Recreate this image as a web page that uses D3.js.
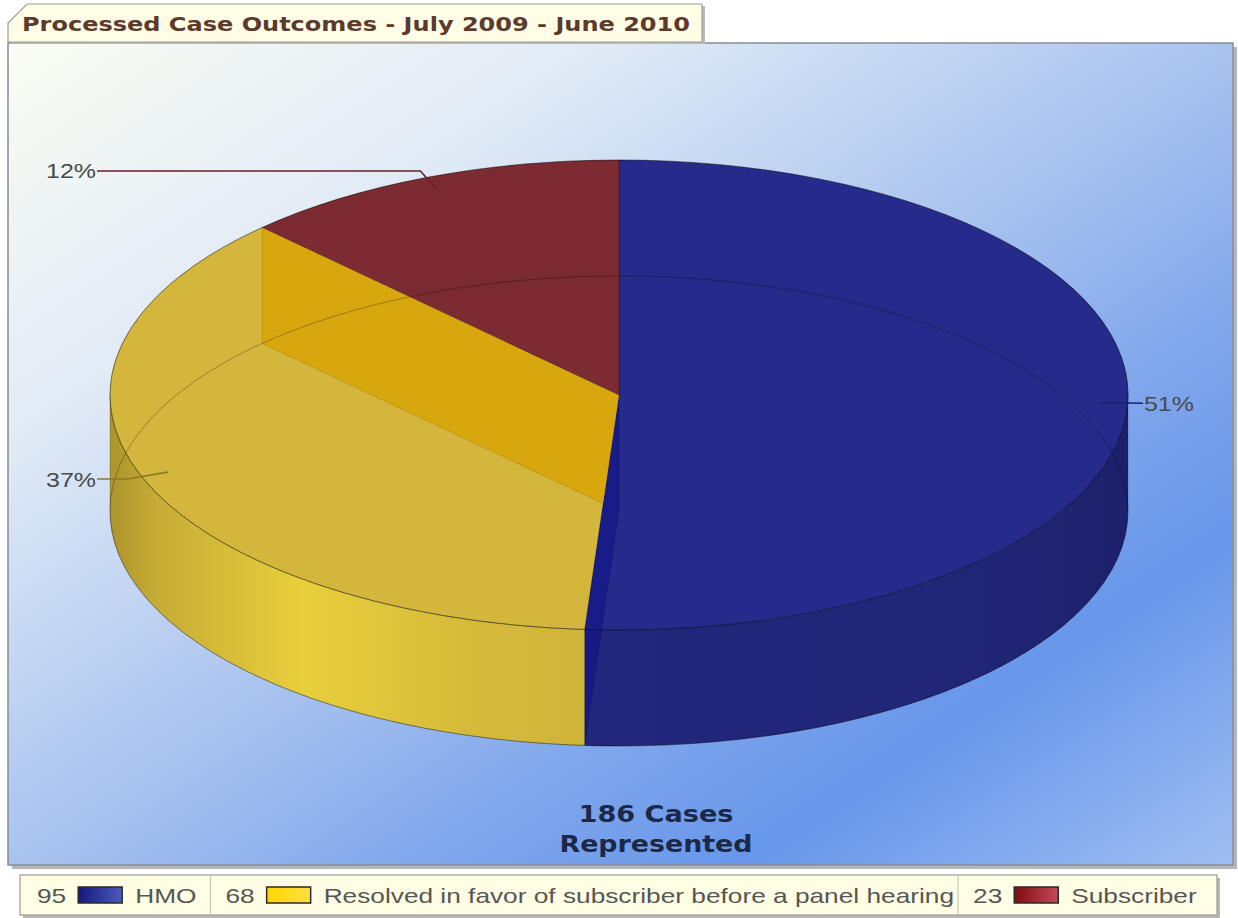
<!DOCTYPE html>
<html>
<head>
<meta charset="utf-8">
<script src="https://cdn.jsdelivr.net/npm/d3@7"></script>
<style>
  body { margin: 0; background: #ffffff; }
  svg { display: block; }
</style>
</head>
<body>
<script>
// ---- data ----
const categories = ["HMO", "Resolved in favor of subscriber before a panel hearing", "Subscriber"];
const caseCounts = [95, 68, 23];
const percentLabels = ["51%", "37%", "12%"];
const titleText = "Processed Case Outcomes - July 2009 - June 2010";
const centerLines = ["186 Cases", "Represented"];

// ---- styles ----
const topColors  = ["#262b8b", "#d3b63b", "#7b2b31"];
const wallColors = ["#22267a", "#d2b83a", "#6e252b"];
const cutColors  = ["#0c1086", "#d9a200", "#5a1a20"];
const cutOpacity = [0.55, 0.75, 0.5];
const leaderColors = ["#1b2066", "#8d7a22", "#6a1f24"];
const swatchFrom = ["#16167c", "#ffd500", "#7e0c10"];
const swatchTo   = ["#4c5cbc", "#ffe040", "#c44a58"];

const W = 1238, H = 918;
const svg = d3.select("body").append("svg").attr("width", W).attr("height", H);
const defs = svg.append("defs");

// ---- plot area ----
const plot = { x: 8, y: 43, w: 1225, h: 822 };
const bg = defs.append("linearGradient").attr("id", "bgGrad")
  .attr("x1", 0).attr("y1", 0).attr("x2", 1).attr("y2", 1);
[[0, "#fbfdf3"], [0.25, "#e0eaf6"], [0.5, "#a9c3ef"], [0.66, "#82a8ec"],
 [0.8, "#6796ea"], [1, "#a0bff2"]].forEach(([o, c]) =>
  bg.append("stop").attr("offset", o).attr("stop-color", c));

// drop shadow of plot area
svg.append("rect").attr("x", plot.x + 4).attr("y", plot.y + 4)
  .attr("width", plot.w).attr("height", plot.h).attr("fill", "#b4b6ba");
svg.append("rect").attr("x", plot.x).attr("y", plot.y)
  .attr("width", plot.w).attr("height", plot.h)
  .attr("fill", "url(#bgGrad)").attr("stroke", "#878c96").attr("stroke-width", 1.5);

// ---- 3D pie ----
const cx = 619, cy = 395, rx = 509, ry = 235, depth = 116;
const pie = d3.pie().sort(null).startAngle(0).endAngle(2 * Math.PI);
const arcs = pie(caseCounts);

const pt = (a, r = 1, dz = 0) => [cx + rx * r * Math.sin(a), cy - ry * r * Math.cos(a) + dz];
const fmt = p => p[0].toFixed(2) + "," + p[1].toFixed(2);

function topPath(d) {
  const s = pt(d.startAngle), e = pt(d.endAngle);
  const large = (d.endAngle - d.startAngle) > Math.PI ? 1 : 0;
  return `M${fmt([cx, cy])}L${fmt(s)}A${rx},${ry} 0 ${large} 1 ${fmt(e)}Z`;
}
function wallPath(a0, a1) {
  const s = pt(a0), e = pt(a1), sb = pt(a0, 1, depth), eb = pt(a1, 1, depth);
  const large = (a1 - a0) > Math.PI ? 1 : 0;
  return `M${fmt(s)}A${rx},${ry} 0 ${large} 1 ${fmt(e)}L${fmt(eb)}A${rx},${ry} 0 ${large} 0 ${fmt(sb)}Z`;
}
function cutPath(a) {
  return `M${fmt([cx, cy])}L${fmt(pt(a))}L${fmt(pt(a, 1, depth))}L${fmt([cx, cy + depth])}Z`;
}
const frontRange = d => [Math.max(d.startAngle, Math.PI / 2), Math.min(d.endAngle, 3 * Math.PI / 2)];

// wall gradients
const yWall = defs.append("linearGradient").attr("id", "wall1")
  .attr("gradientUnits", "userSpaceOnUse")
  .attr("x1", cx - rx).attr("y1", 0).attr("x2", cx).attr("y2", 0);
[[0, "#ad942c"], [0.1, "#c8ad36"], [0.38, "#e8cf3b"], [0.7, "#d6bb3a"], [1, "#cdb23a"]]
  .forEach(([o, c]) => yWall.append("stop").attr("offset", o).attr("stop-color", c));
const bWall = defs.append("linearGradient").attr("id", "wall0")
  .attr("gradientUnits", "userSpaceOnUse")
  .attr("x1", cx).attr("y1", 0).attr("x2", cx + rx).attr("y2", 0);
[[0, "#22267c"], [0.6, "#222678"], [1, "#1d216c"]]
  .forEach(([o, c]) => bWall.append("stop").attr("offset", o).attr("stop-color", c));
const wallFill = ["url(#wall0)", "url(#wall1)", wallColors[2]];

// each slice's own visible body (top + front wall), used to clip its cut face
arcs.forEach((d, i) => {
  const cp = defs.append("clipPath").attr("id", "body" + i);
  cp.append("path").attr("d", topPath(d));
  const [a0, a1] = frontRange(d);
  if (a1 > a0) cp.append("path").attr("d", wallPath(a0, a1));
});

const pieG = svg.append("g");

// front-facing outer walls (angles between 90 and 270 degrees)
arcs.forEach((d, i) => {
  const [a0, a1] = frontRange(d);
  if (a1 > a0) {
    pieG.append("path").attr("d", wallPath(a0, a1))
      .attr("fill", wallFill[i]).attr("stroke", "#000").attr("stroke-opacity", 0.25)
      .attr("stroke-width", 0.8);
  }
});

// top faces
pieG.selectAll("path.top").data(arcs).join("path").attr("class", "top")
  .attr("d", topPath).attr("fill", (d, i) => topColors[i])
  .attr("stroke", "#000").attr("stroke-opacity", 0.3).attr("stroke-width", 0.8);

// radial cut faces seen through the translucent top
arcs.forEach((d, i) => {
  if (d.endAngle < 2 * Math.PI - 1e-6) {
    pieG.append("path").attr("d", cutPath(d.endAngle))
      .attr("clip-path", `url(#body${i})`)
      .attr("fill", cutColors[i]).attr("fill-opacity", cutOpacity[i])
      .attr("stroke", "#000").attr("stroke-opacity", 0.15).attr("stroke-width", 0.8);
  }
});

// rim of the base ellipse showing through
pieG.append("ellipse").attr("cx", cx).attr("cy", cy + depth).attr("rx", rx).attr("ry", ry)
  .attr("fill", "none").attr("stroke", "#000").attr("stroke-opacity", 0.28).attr("stroke-width", 1);
pieG.append("ellipse").attr("cx", cx).attr("cy", cy).attr("rx", rx).attr("ry", ry)
  .attr("fill", "none").attr("stroke", "#000").attr("stroke-opacity", 0.3).attr("stroke-width", 1);

// ---- percentage labels with leader lines ----
const labelG = svg.append("g");
arcs.forEach((d, i) => {
  const mid = (d.startAngle + d.endAngle) / 2;
  const anchor = pt(mid, 0.945);
  const elbow = pt(mid, 1.03);
  const right = Math.sin(mid) > 0;
  const endX = right ? elbow[0] : 97;
  const pts = [anchor, elbow, [endX, elbow[1]]];
  labelG.append("path").attr("d", d3.line()(pts)).attr("fill", "none")
    .attr("stroke", leaderColors[i]).attr("stroke-width", 1.6);
  labelG.append("text")
    .attr("x", right ? endX + 1 : endX - 1).attr("y", elbow[1] + 7.5)
    .attr("text-anchor", right ? "start" : "end")
    .attr("font-family", "'Liberation Sans', Arial, sans-serif")
    .attr("font-size", 21).attr("fill", "#4a4a4a")
    .attr("textLength", 50).attr("lengthAdjust", "spacingAndGlyphs")
    .text(percentLabels[i]);
});

// ---- centre caption ----
const capW = [155, 193];
centerLines.forEach((s, i) => {
  svg.append("text").attr("x", 656).attr("y", 822 + i * 30)
    .attr("text-anchor", "middle")
    .attr("font-family", "'DejaVu Sans', Verdana, sans-serif").attr("font-weight", "bold")
    .attr("font-size", 23).attr("fill", "#1b2848")
    .attr("textLength", capW[i]).attr("lengthAdjust", "spacingAndGlyphs")
    .text(s);
});

// ---- title tab ----
const tab = { x: 8, y: 4, w: 694, h: 38, cut: 19 };
const tabPath = `M${tab.x},${tab.y + tab.cut}L${tab.x + tab.cut},${tab.y}L${tab.x + tab.w},${tab.y}` +
  `L${tab.x + tab.w},${tab.y + tab.h}L${tab.x},${tab.y + tab.h}Z`;
svg.append("path").attr("d", tabPath).attr("transform", "translate(3,2)").attr("fill", "#b9b9b6");
svg.append("path").attr("d", tabPath).attr("fill", "#fffde6").attr("stroke", "#9c9c98").attr("stroke-width", 1.2);
svg.append("text").attr("x", 22).attr("y", 31)
  .attr("font-family", "'DejaVu Sans', Verdana, sans-serif").attr("font-weight", "bold")
  .attr("font-size", 19).attr("fill", "#5c3a2c")
  .attr("textLength", 668).attr("lengthAdjust", "spacingAndGlyphs")
  .text(titleText);

// ---- legend ----
const leg = { x: 20, y: 875, w: 1197, h: 40 };
svg.append("rect").attr("x", leg.x + 3).attr("y", leg.y + 3).attr("width", leg.w).attr("height", leg.h)
  .attr("fill", "#b8b8b6");
svg.append("rect").attr("x", leg.x).attr("y", leg.y).attr("width", leg.w).attr("height", leg.h)
  .attr("fill", "#fffee4").attr("stroke", "#9a9a96").attr("stroke-width", 1.2);

categories.forEach((c, i) => {
  const g = defs.append("linearGradient").attr("id", "sw" + i);
  g.append("stop").attr("offset", 0).attr("stop-color", swatchFrom[i]);
  g.append("stop").attr("offset", 1).attr("stop-color", swatchTo[i]);
});

const legG = svg.append("g")
  .attr("font-family", "'Liberation Sans', Arial, sans-serif").attr("font-size", 21).attr("fill", "#565656");
const stretch = 1.25, baseY = 903;
function legText(x, s) {
  const t = legG.append("text").attr("x", x).attr("y", baseY).text(s);
  const w = t.node().getComputedTextLength() * stretch;
  t.attr("textLength", w).attr("lengthAdjust", "spacingAndGlyphs");
  return w;
}
let lx = 37;
categories.forEach((c, i) => {
  lx += legText(lx, String(caseCounts[i])) + 12;
  legG.append("rect").attr("x", lx).attr("y", 887).attr("width", 44).attr("height", 16)
    .attr("fill", `url(#sw${i})`).attr("stroke", "#2a2a2a").attr("stroke-width", 1.5);
  lx += 44 + 13;
  lx += legText(lx, c);
  if (i < categories.length - 1) {
    lx += (i === 1 ? 4 : 14);
    legG.append("line").attr("x1", lx).attr("x2", lx).attr("y1", leg.y + 1).attr("y2", leg.y + leg.h - 1)
      .attr("stroke", "#c9c8b8").attr("stroke-width", 1.2);
    lx += 15;
  }
});
</script>
</body>
</html>
